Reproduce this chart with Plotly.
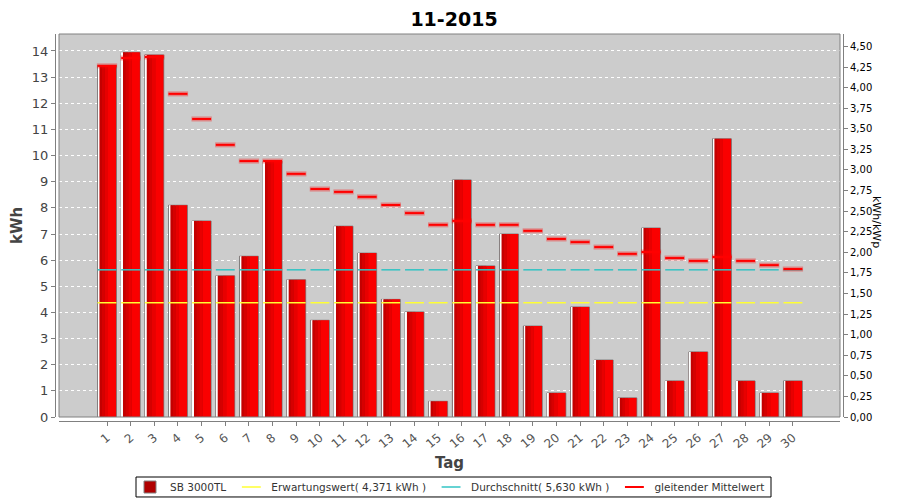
import plotly.graph_objects as go

# data (November 2015)
days = list(range(1, 31))
yield_kwh = [13.45, 13.95, 13.85, 8.10, 7.50, 5.40, 6.15, 9.80, 5.25, 3.70,
             7.30, 6.27, 4.50, 4.02, 0.60, 9.07, 5.78, 7.00, 3.48, 0.92,
             4.21, 2.18, 0.73, 7.23, 1.38, 2.49, 10.64, 1.38, 0.92, 1.38]
moving_avg = [13.43, 13.73, 13.77, 12.36, 11.40, 10.41, 9.79, 9.79, 9.30, 8.72,
              8.61, 8.42, 8.11, 7.80, 7.35, 7.50, 7.35, 7.35, 7.12, 6.81,
              6.69, 6.50, 6.24, 6.31, 6.08, 5.97, 6.12, 5.97, 5.81, 5.66]
expected = 4.371
average = 5.630
kwp = 3.15
y_max = 14.65

FONT = "DejaVu Sans"
GRAY = "#808080"
SEG = 13.5  # line-ew marker size (~19px long dash)

fig = go.Figure()

# bars: dark base (legend entry) with brighter bands on top to fake the gradient
fig.add_trace(go.Bar(x=days, y=yield_kwh, name="SB 3000TL", width=0.8,
                     marker=dict(color="#b00000", line=dict(color=GRAY, width=1))))
bands = [(-0.37, 0.05, "#ffffff"), (-0.32, 0.10, "#c40000"), (-0.22, 0.12, "#d60000"),
         (-0.10, 0.14, "#e80000"), (0.04, 0.345, "#fa0000")]
for off, w, col in bands:
    fig.add_trace(go.Bar(x=days, y=yield_kwh, offset=off, width=w, showlegend=False,
                         hoverinfo="skip", marker=dict(color=col, line=dict(width=0))))

fig.add_trace(go.Scatter(x=days, y=[expected] * len(days), mode="markers",
                         name="Erwartungswert( 4,371 kWh )",
                         marker=dict(symbol="line-ew", size=SEG,
                                     line=dict(color="#ffff33", width=1.5))))
fig.add_trace(go.Scatter(x=days, y=[average] * len(days), mode="markers",
                         name="Durchschnitt( 5,630 kWh )",
                         marker=dict(symbol="line-ew", size=SEG,
                                     line=dict(color="#33c4c4", width=1.5))))
# soft glow under the moving average dashes
fig.add_trace(go.Scatter(x=days, y=moving_avg, mode="markers", showlegend=False,
                         hoverinfo="skip",
                         marker=dict(symbol="line-ew", size=SEG + 1,
                                     line=dict(color="rgba(255,0,0,0.35)", width=5))))
fig.add_trace(go.Scatter(x=days, y=moving_avg, mode="markers",
                         name="gleitender Mittelwert",
                         marker=dict(symbol="line-ew", size=SEG,
                                     line=dict(color="#ff0000", width=2))))
# invisible trace to keep the right axis alive
fig.add_trace(go.Scatter(x=[None], y=[None], yaxis="y2", showlegend=False))

# the page body has an 8px margin, so the figure is 8px smaller each way
fig.update_layout(
    width=892, height=492,
    margin=dict(l=42, r=50, t=26, b=75, autoexpand=False),
    paper_bgcolor="white", plot_bgcolor="#cccccc",
    separators=",.",
    barmode="overlay",
    font=dict(family=FONT, size=12, color="#444444"),
    title=dict(text="<b>11-2015</b>", x=0.5, xanchor="center", y=0.977, yanchor="middle",
               font=dict(family=FONT, size=19, color="black")),
    xaxis=dict(domain=[0.01125, 0.9875], range=[-1.03, 31.99], anchor="free",
               position=0.0102, tickvals=days, ticktext=[str(d) for d in days],
               tickangle=-40, showgrid=False, zeroline=False, automargin=False,
               showline=True, linecolor=GRAY, ticks="outside", ticklen=4,
               tickcolor=GRAY, tickfont=dict(size=12, color="#555555"),
               title=dict(text="<b>Tag</b>", font=dict(size=15, color="#444444"), standoff=7)),
    yaxis=dict(domain=[0.02046, 1], range=[0, y_max], anchor="free", position=0.00625,
               dtick=1, showgrid=True, gridcolor="white", griddash="3px,3px", gridwidth=1,
               zeroline=False, showline=True, linecolor=GRAY, ticks="outside", ticklen=4,
               tickcolor=GRAY, tickfont=dict(size=13, color="#444444"), automargin=False,
               title=dict(text="<b>kWh</b>", font=dict(size=15, color="#444444"), standoff=5)),
    yaxis2=dict(overlaying="y", side="right", anchor="free", position=0.99125,
                range=[0, y_max / kwp], dtick=0.25, tickformat=".2f", showgrid=False,
                zeroline=False, showline=True, linecolor=GRAY, ticks="outside", ticklen=4,
                tickcolor=GRAY, tickfont=dict(size=10, color="black"), automargin=False),
    legend=dict(orientation="h", x=0.5, xanchor="center", y=-0.1586, yanchor="middle",
                bgcolor="rgba(0,0,0,0)", borderwidth=0,
                font=dict(size=10.5, color="#333333"), itemwidth=30,
                tracegroupgap=0),
    shapes=[dict(type="rect", xref="x domain", yref="y domain", x0=0, x1=1, y0=0, y1=1,
                 line=dict(color=GRAY, width=1), layer="above"),
            # frame around the legend
            dict(type="rect", xref="paper", yref="paper", x0=0.1075, x1=0.90125,
                 y0=-0.1841, y1=-0.133, line=dict(color="black", width=1))],
    annotations=[dict(text="kWh/kWp", textangle=90, xref="paper", yref="paper",
                      x=1.044, y=0.52, showarrow=False,
                      font=dict(size=11, color="black"))],
)

fig.write_html("out.html")
